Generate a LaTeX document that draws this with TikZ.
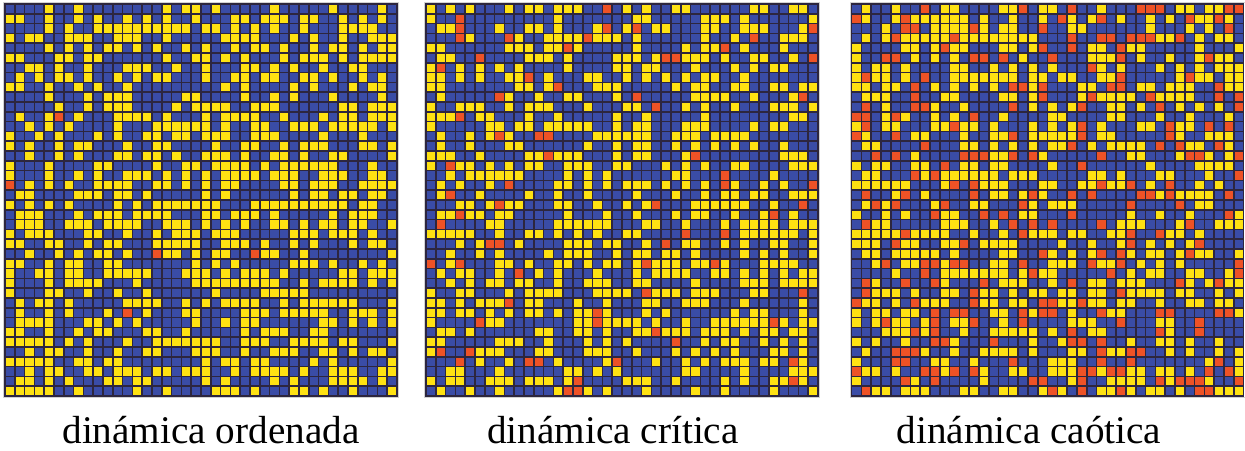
\documentclass[tikz,border=0pt]{standalone}
\usepackage{fontspec}
\setmainfont{Liberation Serif}
\definecolor{cellblue}{RGB}{58,76,166}
\definecolor{cellyel}{RGB}{255,226,18}
\definecolor{cellred}{RGB}{238,82,38}
\definecolor{cellline}{RGB}{45,38,62}
\tikzset{
    cell/.style={fill=#1, draw=cellline, line width=0.032cm},
    frame/.style={draw=gray!35, line width=0.02cm},
    caption/.style={anchor=base, font=\fontsize{22.3}{26}\selectfont}
}

\begin{document}
\begin{tikzpicture}[x=0.02cm, y=-0.02cm]
    \useasboundingbox (0,0) rectangle (1245,450);
    \pgfmathsetseed{4711}
    % three lattices: left edge, red share, red+yellow share
    \foreach \xo/\pr/\py in {5/0.004/0.484, 426/0.05/0.47, 851.5/0.16/0.56} {
        \draw[frame] (\xo-1.5,2.5) rectangle (\xo+393.5,397.5);
        \foreach \i in {0,...,39} {
            \foreach \j in {0,...,39} {
                \pgfmathsetmacro\rv{rnd}
                \ifdim\rv pt<\pr pt\def\cellcol{cellred}\else
                    \ifdim\rv pt<\py pt\def\cellcol{cellyel}\else\def\cellcol{cellblue}\fi\fi
                \filldraw[cell=\cellcol] (\xo+\i*9.8,4+\j*9.8) rectangle ++(9.8,9.8);
            }
        }
    }
    \node[caption] (lblord) at (211,443) {dinámica ordenada};
    \node[caption] (lblcrit) at (613,443) {dinámica crítica};
    \node[caption] (lblcaos) at (1029,443) {dinámica caótica};
\end{tikzpicture}
\end{document}
